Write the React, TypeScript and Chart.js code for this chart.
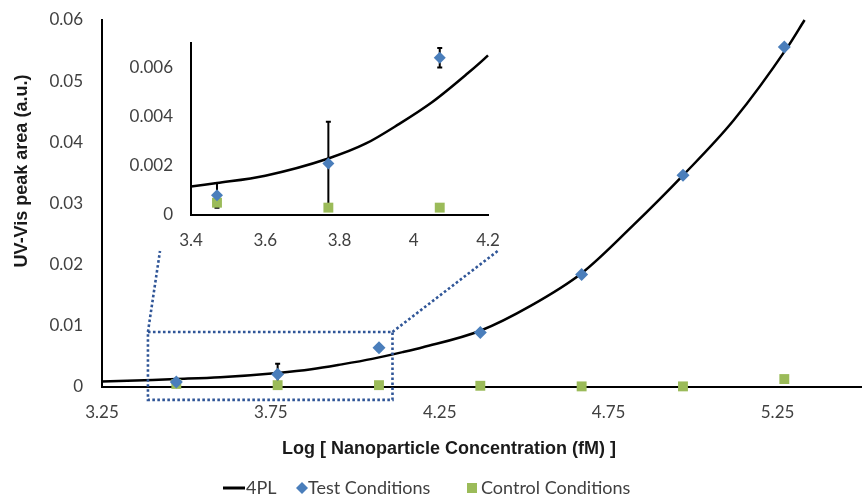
import React, { useEffect, useRef } from "react";
import { Chart, registerables } from "chart.js";

Chart.register(...registerables);

// ---------- data ----------
const logConc = [3.47, 3.77, 4.07, 4.37, 4.67, 4.97, 5.27];
const testValues = [0.0008, 0.0021, 0.0064, 0.0089, 0.0184, 0.0346, 0.0556];
const testErrors = [0.0005, 0.0017, 0.0004, 0.0003, 0.0003, 0.0003, 0.0003];
const controlValues = [0.0005, 0.0003, 0.0003, 0.0002, 0.0001, 0.0001, 0.0013];
const fitX = [3.25, 3.4, 3.47, 3.6, 3.77, 3.87, 3.96, 4.05, 4.14, 4.2, 4.37, 4.52, 4.67, 4.82, 4.97, 5.12, 5.28, 5.33];
const fitY = [0.0009, 0.00116, 0.0013, 0.0016, 0.0023, 0.0029, 0.0037, 0.0046, 0.0057, 0.0065, 0.0092, 0.0133, 0.0186, 0.0263, 0.0346, 0.0436, 0.0556, 0.06];
const mainXTicks = [3.25, 3.75, 4.25, 4.75, 5.25];
const mainYTicks = [0, 0.01, 0.02, 0.03, 0.04, 0.05, 0.06];
const insetXTicks = [3.4, 3.6, 3.8, 4, 4.2];
const insetYTicks = [0, 0.002, 0.004, 0.006];
const seriesLabels = ["4PL", "Test Conditions", "Control Conditions"];
const xTitle = "Log [ Nanoparticle Concentration (fM) ]";
const yTitle = "UV-Vis peak area (a.u.)";

// zoom window drawn on the main chart (data units)
const zoomBox = { xMin: 3.386, xMax: 4.11, yMin: -0.0021, yMax: 0.009 };

const BLUE = "#4A7EBB";
const GREEN = "#9BBB59";
const DOT = "#2F5597";
const TICK_COLOR = "#404040";
const TICK_FONT = { family: "Lato", size: 17 };

const fmt = (v: number | string) => String(+Number(v).toFixed(4));

function setTicks(values: number[]) {
  return (scale: any) => {
    scale.ticks = values.map((v) => ({ value: v }));
  };
}

const errorBarPlugin = {
  id: "errorBars",
  beforeDatasetsDraw(chart: any) {
    const { ctx, scales } = chart;
    const x = scales.x, y = scales.y;
    ctx.save();
    ctx.strokeStyle = "#000";
    ctx.lineWidth = 2;
    for (let i = 0; i < logConc.length; i++) {
      const v = logConc[i];
      if (v < x.min || v > x.max) continue;
      const px = x.getPixelForValue(v);
      const top = y.getPixelForValue(testValues[i] + testErrors[i]);
      const bot = y.getPixelForValue(testValues[i] - testErrors[i]);
      ctx.beginPath();
      ctx.moveTo(px, top);
      ctx.lineTo(px, bot);
      ctx.moveTo(px - 2.5, top);
      ctx.lineTo(px + 2.5, top);
      ctx.moveTo(px - 2.5, bot);
      ctx.lineTo(px + 2.5, bot);
      ctx.stroke();
    }
    ctx.restore();
  },
};

const decorPlugin = {
  id: "decor",
  afterDraw(chart: any) {
    const { ctx, scales } = chart;
    const x = scales.x, y = scales.y;
    ctx.save();
    // zoom rectangle + connectors
    ctx.strokeStyle = DOT;
    ctx.lineWidth = 2.6;
    ctx.setLineDash([2.6, 2.4]);
    const l = x.getPixelForValue(zoomBox.xMin);
    const r = x.getPixelForValue(zoomBox.xMax);
    const t = y.getPixelForValue(zoomBox.yMax);
    const b = y.getPixelForValue(zoomBox.yMin);
    ctx.strokeRect(l, t, r - l, b - t);
    ctx.beginPath();
    ctx.moveTo(l, t);
    ctx.lineTo(160, 251);
    ctx.moveTo(r, t);
    ctx.lineTo(499, 250);
    ctx.stroke();
    ctx.setLineDash([]);

    // axis titles
    ctx.fillStyle = "#1a1a1a";
    ctx.font = 'bold 18px "Liberation Sans"';
    ctx.textAlign = "center";
    ctx.textBaseline = "middle";
    ctx.fillText(xTitle, 449, 449);
    ctx.save();
    ctx.translate(22, 171);
    ctx.rotate(-Math.PI / 2);
    ctx.fillText(yTitle, 0, 0);
    ctx.restore();

    // legend
    const ly = 488;
    ctx.font = '18px Lato';
    ctx.fillStyle = TICK_COLOR;
    ctx.textAlign = "left";
    ctx.strokeStyle = "#000";
    ctx.lineWidth = 3;
    ctx.beginPath();
    ctx.moveTo(223, ly);
    ctx.lineTo(245, ly);
    ctx.stroke();
    ctx.fillText(chart.data.datasets[0].label, 246, ly);
    ctx.fillStyle = BLUE;
    ctx.beginPath();
    ctx.moveTo(302, ly - 6);
    ctx.lineTo(308, ly);
    ctx.lineTo(302, ly + 6);
    ctx.lineTo(296, ly);
    ctx.closePath();
    ctx.fill();
    ctx.fillStyle = TICK_COLOR;
    ctx.fillText(chart.data.datasets[1].label, 308, ly);
    ctx.fillStyle = GREEN;
    ctx.fillRect(467, ly - 5, 10, 10);
    ctx.fillStyle = TICK_COLOR;
    ctx.fillText(chart.data.datasets[2].label, 481, ly);
    ctx.restore();
  },
};

function buildDatasets(diamond: number, square: number) {
  return [
    {
      type: "line" as const,
      label: seriesLabels[0],
      data: fitX.map((v, i) => ({ x: v, y: fitY[i] })),
      borderColor: "#000",
      borderWidth: 2.5,
      pointRadius: 0,
      cubicInterpolationMode: "monotone" as const,
      fill: false,
      order: 3,
      clip: 1,
    },
    {
      type: "scatter" as const,
      label: seriesLabels[1],
      data: logConc.map((v, i) => ({ x: v, y: testValues[i] })),
      pointStyle: "rectRot",
      pointRadius: diamond,
      pointBackgroundColor: BLUE,
      pointBorderColor: BLUE,
      pointBorderWidth: 0,
      order: 1,
      clip: false,
    },
    {
      type: "scatter" as const,
      label: seriesLabels[2],
      data: logConc.map((v, i) => ({ x: v, y: controlValues[i] })),
      pointStyle: "rect",
      pointRadius: square,
      pointBackgroundColor: GREEN,
      pointBorderColor: GREEN,
      pointBorderWidth: 0,
      order: 2,
      clip: false,
    },
  ];
}

function axis(min: number, max: number, ticks: number[], pad: number, size: { w?: number; h?: number }) {
  return {
    type: "linear" as const,
    min,
    max,
    afterBuildTicks: setTicks(ticks),
    afterFit: (s: any) => {
      if (size.w !== undefined) s.width = size.w;
      if (size.h !== undefined) s.height = size.h;
      s.paddingTop = 0;
      s.paddingBottom = 0;
      s.paddingLeft = 0;
      s.paddingRight = 0;
    },
    grid: { display: false, drawTicks: false },
    border: { display: true, color: "#000", width: 2 },
    ticks: {
      padding: pad,
      color: TICK_COLOR,
      font: TICK_FONT,
      callback: fmt,
      autoSkip: false,
      maxRotation: 0,
    },
  };
}

export default function App() {
  const mainRef = useRef<HTMLCanvasElement>(null);
  const insetRef = useRef<HTMLCanvasElement>(null);

  useEffect(() => {
    document.body.style.margin = "0";
    const main = new Chart(mainRef.current!, {
      type: "scatter",
      data: { datasets: buildDatasets(6.5, 7) as any },
      options: {
        responsive: false,
        animation: false,
        layout: { autoPadding: false, padding: { top: 20, left: 0, right: 0, bottom: 0 } },
        plugins: { legend: { display: false }, tooltip: { enabled: false } },
        scales: {
          x: axis(3.25, 5.5, mainXTicks, 15, { h: 107 }),
          y: axis(0, 0.06, mainYTicks, 19, { w: 102 }),
        },
      },
      plugins: [errorBarPlugin, decorPlugin],
    });
    const inset = new Chart(insetRef.current!, {
      type: "scatter",
      data: { datasets: buildDatasets(6, 7) as any },
      options: {
        responsive: false,
        animation: false,
        layout: { autoPadding: false, padding: { top: 23, left: 0, right: 22, bottom: 0 } },
        plugins: { legend: { display: false }, tooltip: { enabled: false } },
        scales: {
          x: axis(3.4, 4.2, insetXTicks, 15, { h: 45 }),
          y: axis(0, 0.007, insetYTicks, 18, { w: 61 }),
        },
      },
      plugins: [errorBarPlugin],
    });
    return () => {
      main.destroy();
      inset.destroy();
    };
  }, []);

  return (
    <div style={{ position: "relative", width: 862, height: 494, background: "#fff", overflow: "hidden" }}>
      <canvas ref={mainRef} width={862} height={494} style={{ position: "absolute", left: 0, top: 0 }} />
      <canvas ref={insetRef} width={380} height={240} style={{ position: "absolute", left: 130, top: 20 }} />
    </div>
  );
}
